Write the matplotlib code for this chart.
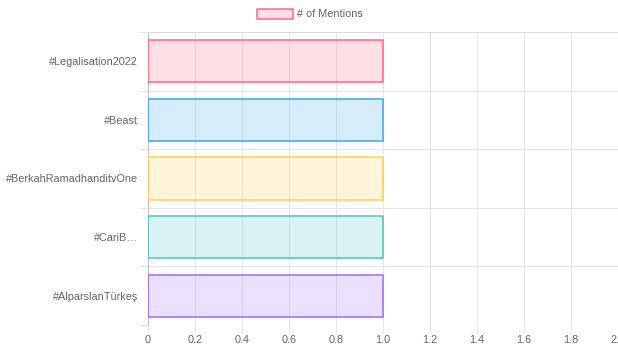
import matplotlib
matplotlib.use("Agg")
import matplotlib.pyplot as plt
from matplotlib.patches import Patch

hashtags = ["#Legalisation2022", "#Beast", "#BerkahRamadhanditvOne",
            "#CariB…", "#AlparslanTürkeş"]
mentions = [1, 1, 1, 1, 1]
edge_colors = ["#ff6384", "#36a2eb", "#ffce56", "#4bc0c0", "#9966ff"]
x_ticks = [0, 0.2, 0.4, 0.6, 0.8, 1.0, 1.2, 1.4, 1.6, 1.8, 2.0]
x_labels = ["0", "0.2", "0.4", "0.6", "0.8", "1.0", "1.2", "1.4", "1.6", "1.8", "2.0"]

TEXT = "#666666"
GRID = "#e6e6e6"
FS = 7.8
PX = 72 / 100  # one pixel in points at dpi 100

plt.rcParams["font.family"] = ["Liberation Sans", "DejaVu Sans"]

fig = plt.figure(figsize=(6.18, 3.47), dpi=100)
ax = fig.add_axes([148 / 618, 1 - 325 / 347, 470 / 618, 293 / 347])
ax.set_axisbelow(True)

ypos = list(range(len(hashtags)))
for y, v, c in zip(ypos, mentions, edge_colors):
    ax.barh(y, v, height=0.72, color=matplotlib.colors.to_rgba(c, 0.2),
            edgecolor=c, linewidth=1.5 * PX, zorder=3)

ax.set_ylim(len(hashtags) - 0.5, -0.5)
ax.set_xlim(0, 2)
ax.set_xticks(x_ticks)
ax.set_xticklabels(x_labels)
# category borders carry the grid, category centres carry the labels
ax.set_yticks([y - 0.5 for y in ypos] + [len(hashtags) - 0.5])
ax.set_yticklabels([""] * (len(hashtags) + 1))
ax.set_yticks(ypos, minor=True)
ax.set_yticklabels(hashtags, minor=True)

ax.tick_params(axis="y", which="major", length=9 * PX, color=GRID, width=PX)
ax.tick_params(axis="y", which="minor", length=0, pad=10 * PX,
               labelsize=FS, labelcolor=TEXT)
ax.tick_params(axis="x", length=8 * PX, color=GRID, width=PX, pad=2 * PX,
               labelsize=FS, labelcolor=TEXT)

ax.grid(True, which="major", color=GRID, linewidth=PX)
for side in ["right", "bottom"]:
    ax.spines[side].set_visible(False)
ax.spines["left"].set_color("#bfbfbf")
ax.spines["left"].set_linewidth(PX)
ax.spines["top"].set_color("#d9d9d9")
ax.spines["top"].set_linewidth(PX)

handle = Patch(facecolor=matplotlib.colors.to_rgba(edge_colors[0], 0.2),
               edgecolor=edge_colors[0], linewidth=1.5 * PX)
fig.legend([handle], ["# of Mentions"], loc="center",
           bbox_to_anchor=(310 / 618, 1 - 14 / 347), frameon=False,
           handlelength=3.3, handleheight=1.1, handletextpad=0.35,
           fontsize=FS, labelcolor=TEXT)

fig.savefig("out.png", dpi=100, facecolor="white")
